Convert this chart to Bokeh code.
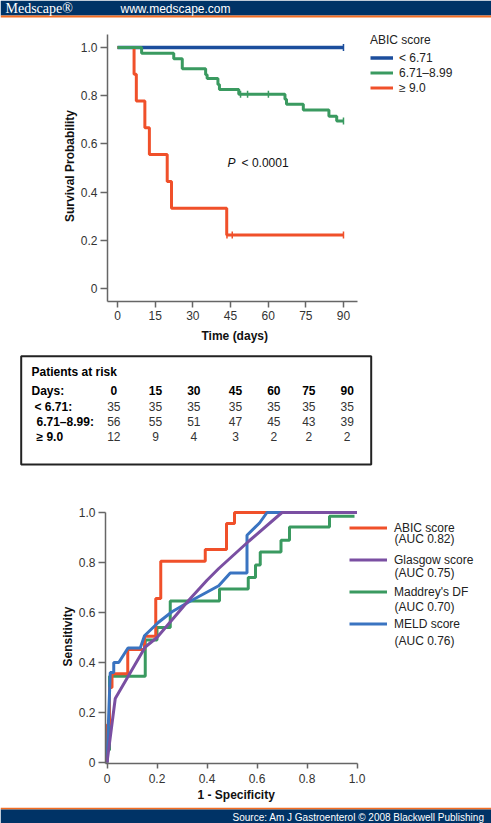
from math import pi
from bokeh.plotting import figure
from bokeh.models import (Range1d, FixedTicker, CustomJSTickFormatter, Label, Legend, LegendItem, Title)
from bokeh.core.properties import value
from bokeh.embed import file_html
from bokeh.resources import INLINE

# ---------------- data ----------------
# Panel A: Kaplan-Meier survival by ABIC score (days, survival probability)
km_ticks = [0, 15, 30, 45, 60, 75, 90]
prob_ticks = [0, 0.2, 0.4, 0.6, 0.8, 1.0]

low_days = [0, 90]
low_surv = [1.0, 1.0]

mid_days = [0, 9.6, 22.4, 25.8, 35.1, 35.7, 40.0, 40.6, 48.3, 66.7, 67.3, 74.0, 84.2, 87.3, 90]
mid_surv = [1.0, 0.976, 0.953, 0.912, 0.887, 0.871, 0.846, 0.826, 0.806, 0.785, 0.764, 0.740, 0.715, 0.695, 0.695]

high_days = [0, 6.6, 7.5, 10.9, 12.7, 19.8, 21.5, 43.5, 90]
high_surv = [1.0, 0.889, 0.778, 0.667, 0.556, 0.444, 0.333, 0.222, 0.222]

low_cens_days = [90]
low_cens_surv = [1.0]
mid_cens_days = [49.0, 51.8, 60.1, 90]
mid_cens_surv = [0.806, 0.806, 0.806, 0.695]
high_cens_days = [43.6, 45.7, 90]
high_cens_surv = [0.222, 0.222, 0.222]

group_labels = ["< 6.71", "6.71–8.99", "≥ 9.0"]

# Patients at risk table
risk_days = [0, 15, 30, 45, 60, 75, 90]
risk_row_labels = ["< 6.71:", "6.71–8.99:", "≥ 9.0"]
risk_low = [35, 35, 35, 35, 35, 35, 35]
risk_mid = [56, 55, 51, 47, 45, 43, 39]
risk_high = [12, 9, 4, 3, 2, 2, 2]

# Panel B: ROC curves (1 - specificity, sensitivity)
roc_ticks = [0, 0.2, 0.4, 0.6, 0.8, 1.0]
abic_fpr = [0, 0.01, 0.02, 0.083, 0.15, 0.195, 0.215, 0.393, 0.478, 0.51, 1.0]
abic_tpr = [0, 0.15, 0.30, 0.355, 0.452, 0.505, 0.656, 0.805, 0.852, 0.956, 1.0]

maddrey_fpr = [0, 0.01, 0.153, 0.2, 0.253, 0.45, 0.565, 0.594, 0.613, 0.696, 0.73, 0.89, 0.99]
maddrey_tpr = [0, 0.05, 0.345, 0.49, 0.54, 0.646, 0.694, 0.74, 0.79, 0.842, 0.889, 0.942, 0.985]

glasgow_fpr = [0, 0.033, 0.153, 0.2, 0.327, 0.4, 0.447, 0.567, 0.7, 1.0]
glasgow_tpr = [0, 0.256, 0.462, 0.50, 0.649, 0.729, 0.776, 0.885, 1.0, 1.0]

meld_fpr = [0, 0.013, 0.027, 0.027, 0.047, 0.084, 0.133, 0.150, 0.205, 0.26, 0.327, 0.447, 0.493, 0.56, 0.56, 0.61, 0.64, 1.0]
meld_tpr = [0, 0.36, 0.36, 0.40, 0.40, 0.458, 0.458, 0.507, 0.56, 0.603, 0.642, 0.707, 0.758, 0.758, 0.909, 0.958, 1.0, 1.0]

roc_names = ["ABIC score", "Glasgow score", "Maddrey's DF", "MELD score"]
roc_auc = ["(AUC 0.82)", "(AUC 0.75)", "(AUC 0.70)", "(AUC 0.76)"]

# ---------------- style ----------------
W = 491
FONT = "Liberation Sans"
NAVY = "#003366"
ORANGE = "#f36c21"
BLUE_A = "#1c4e9d"
GREEN = "#3a9a60"
RED = "#f0502a"
PURPLE = "#7a4fa2"
BLUE_B = "#3a74c1"
AXIS = "#666666"

fmt = CustomJSTickFormatter(code="return tick == 0 ? '0' : tick.toFixed(1);")


def deco_fig(h):
    p = figure(width=W, height=h, x_range=Range1d(0, W), y_range=Range1d(h, 0),
               min_border=0, min_border_left=0, min_border_right=0,
               min_border_top=0, min_border_bottom=0,
               x_axis_type=None, y_axis_type=None,
               output_backend="svg", toolbar_location=None)
    p.outline_line_color = None
    p.grid.visible = False
    return p


def style_axes(p):
    for ax in (p.xaxis[0], p.yaxis[0]):
        ax.axis_line_color = AXIS
        ax.axis_line_width = 1.5
        ax.major_tick_line_color = AXIS
        ax.major_tick_line_width = 1.5
        ax.major_tick_in = 0
        ax.minor_tick_line_color = None
        ax.major_label_text_font = FONT
        ax.major_label_text_font_size = "12px"
        ax.major_label_text_color = "#333333"
        ax.axis_label_text_font = FONT
        ax.axis_label_text_font_size = "12px"
        ax.axis_label_text_font_style = "bold"
        ax.axis_label_text_color = "#111111"
    p.xaxis[0].major_tick_out = 6
    p.yaxis[0].major_tick_out = 7
    p.grid.visible = False
    p.outline_line_color = None


def x_title(text, offset, standoff):
    return Title(text=text, align="left", offset=offset, standoff=standoff,
                 text_font=FONT, text_font_size="12px", text_font_style="bold",
                 text_color="#111111")


# ---------------- header ----------------
hd = deco_fig(20)
hd.quad(left=0, right=W, top=0, bottom=15, fill_color=NAVY, line_color=None)
hd.quad(left=0, right=W, top=15, bottom=17, fill_color=ORANGE, line_color=None)
hd.text(x=[5], y=[8], text=["Medscape®"], text_font=value("Liberation Serif"),
        text_font_size="14px", text_color="white", text_baseline="middle")
hd.text(x=[120], y=[8], text=["www.medscape.com"], text_font=value(FONT),
        text_font_size="12px", text_color="white", text_baseline="middle")

# ---------------- panel A ----------------
km_x0 = -3.98
km_px_per_day = 2.511
km_frame_w = W - 107
km = figure(width=W, height=326,
            x_range=Range1d(km_x0, km_x0 + km_frame_w / km_px_per_day),
            y_range=Range1d(-0.0537, 1.0702),
            min_border_left=107, min_border_right=0, min_border_top=10, min_border_bottom=44,
            output_backend="svg", toolbar_location=None)
style_axes(km)
km.xaxis.bounds = (km_x0, 95.58)
km.yaxis.bounds = (-0.0537, 1.0537)
km.xaxis.ticker = FixedTicker(ticks=km_ticks)
km.yaxis.ticker = FixedTicker(ticks=prob_ticks)
km.yaxis.formatter = fmt
km.yaxis.axis_label = "Survival Probability"
km.xaxis.major_label_standoff = 3
km.yaxis.major_label_standoff = 3
km.yaxis.axis_label_standoff = 1
km.add_layout(x_title("Time (days)", 94, 8), "below")

r_low = km.step(low_days, low_surv, mode="after", line_color=BLUE_A, line_width=3.5)
r_high = km.step(high_days, high_surv, mode="after", line_color=RED, line_width=3)
r_mid = km.step(mid_days, mid_surv, mode="after", line_color=GREEN, line_width=3)
km.scatter(low_cens_days, low_cens_surv, marker="dash", angle=pi / 2, size=7, line_color=BLUE_A, line_width=1.5)
km.scatter(mid_cens_days, mid_cens_surv, marker="dash", angle=pi / 2, size=7, line_color=GREEN, line_width=1.5)
km.scatter(high_cens_days, high_cens_surv, marker="dash", angle=pi / 2, size=7, line_color=RED, line_width=1.5)

leg_a = Legend(items=[LegendItem(label=group_labels[0], renderers=[r_low]),
                      LegendItem(label=group_labels[1], renderers=[r_mid]),
                      LegendItem(label=group_labels[2], renderers=[r_high])],
               title="ABIC score", location=(263, 206), padding=0, margin=0, spacing=-1,
               glyph_width=23, glyph_height=15, label_height=15, label_standoff=6,
               title_standoff=3, border_line_color=None, background_fill_alpha=0,
               label_text_font=FONT, label_text_font_size="12px", label_text_color="#222222",
               title_text_font=FONT, title_text_font_size="12px", title_text_font_style="normal",
               title_text_color="#222222")
km.add_layout(leg_a)

km.add_layout(Label(x=-87, y=259, x_units="screen", y_units="screen", text="A",
                    text_font=FONT, text_font_size="16px", text_font_style="bold",
                    text_baseline="middle"))
km.add_layout(Label(x=43.8, y=0.521, text="P", text_font=FONT, text_font_size="12px",
                    text_font_style="italic", text_baseline="middle", text_color="#111111"))
km.add_layout(Label(x=49.4, y=0.521, text="< 0.0001", text_font=FONT, text_font_size="12px",
                    text_baseline="middle", text_color="#111111"))

# ---------------- risk table ----------------
tb = deco_fig(132)
tb.quad(left=20.7, right=370.7, top=9.7, bottom=118, fill_color=None, line_color="#222222", line_width=2)
col_x = [113.3, 155, 193.3, 235, 273.3, 308.3, 346.7]
row_y = [60, 75, 90]
tb.text(x=[31], y=[25.7], text=["Patients at risk"], text_font=value(FONT), text_font_size="12px",
        text_font_style="bold", text_baseline="middle")
tb.text(x=[31], y=[44], text=["Days:"], text_font=value(FONT), text_font_size="12px",
        text_font_style="bold", text_baseline="middle")
tb.text(x=col_x, y=[44] * len(col_x), text=[str(d) for d in risk_days], text_font=value(FONT),
        text_font_size="12px", text_font_style="bold", text_baseline="middle", text_align="center")
tb.text(x=[34, 36, 36], y=row_y, text=risk_row_labels, text_font=value(FONT), text_font_size="12px",
        text_font_style="bold", text_baseline="middle")
for ry, row in zip(row_y, [risk_low, risk_mid, risk_high]):
    tb.text(x=col_x, y=[ry] * len(col_x), text=[str(v) for v in row], text_font=value(FONT),
            text_font_size="12px", text_baseline="middle", text_align="center", text_color="#333333")

# ---------------- panel B ----------------
roc_x0 = -0.006
roc_px = 250.0
roc_frame_w = W - 105
roc = figure(width=W, height=329,
             x_range=Range1d(roc_x0, roc_x0 + roc_frame_w / roc_px),
             y_range=Range1d(-0.004, 1.012),
             min_border_left=105, min_border_right=0, min_border_top=31, min_border_bottom=44,
             output_backend="svg", toolbar_location=None)
style_axes(roc)
roc.xaxis.bounds = (roc_x0, 1.0)
roc.yaxis.bounds = (-0.004, 1.0)
roc.xaxis.ticker = FixedTicker(ticks=roc_ticks)
roc.yaxis.ticker = FixedTicker(ticks=roc_ticks)
roc.xaxis.formatter = fmt
roc.yaxis.formatter = fmt
roc.yaxis.axis_label = "Sensitivity"
roc.xaxis.major_tick_out = 5
roc.xaxis.major_label_standoff = 5
roc.yaxis.major_label_standoff = 3
roc.yaxis.axis_label_standoff = 1
roc.add_layout(x_title("1 - Specificity", 92, 0), "below")

r_md = roc.step(maddrey_fpr, maddrey_tpr, mode="before", line_color=GREEN, line_width=3)
r_ab = roc.step(abic_fpr, abic_tpr, mode="before", line_color=RED, line_width=3)
r_me = roc.line(meld_fpr, meld_tpr, line_color=BLUE_B, line_width=3)
r_gl = roc.line(glasgow_fpr, glasgow_tpr, line_color=PURPLE, line_width=3)

leg_b = Legend(items=[LegendItem(label=roc_names[0], renderers=[r_ab]),
                      LegendItem(label=roc_names[1], renderers=[r_gl]),
                      LegendItem(label=roc_names[2], renderers=[r_md]),
                      LegendItem(label=roc_names[3], renderers=[r_me])],
               location=(244, 132), padding=0, margin=0, spacing=17,
               glyph_width=38, glyph_height=15, label_height=15, label_standoff=7,
               border_line_color=None, background_fill_alpha=0,
               label_text_font=FONT, label_text_font_size="12px", label_text_color="#222222")
roc.add_layout(leg_b)
for k, txt in enumerate(roc_auc):
    roc.add_layout(Label(x=289, y=225 - 34 * k, x_units="screen", y_units="screen", text=txt,
                         text_font=FONT, text_font_size="12px", text_color="#222222",
                         text_baseline="middle"))
roc.add_layout(Label(x=-85, y=258, x_units="screen", y_units="screen", text="B",
                     text_font=FONT, text_font_size="16px", text_font_style="bold",
                     text_baseline="middle"))

# ---------------- footer ----------------
ft = deco_fig(16)
ft.quad(left=0, right=W, top=0, bottom=2, fill_color=ORANGE, line_color=None)
ft.quad(left=0, right=W, top=2, bottom=16, fill_color=NAVY, line_color=None)
ft.text(x=[484], y=[9.5], text=["Source: Am J Gastroenterol © 2008 Blackwell Publishing"],
        text_font=value(FONT), text_font_size="10px", text_color="white",
        text_baseline="middle", text_align="right")

open("out.html", "w").write(file_html([hd, km, tb, roc, ft], INLINE))
